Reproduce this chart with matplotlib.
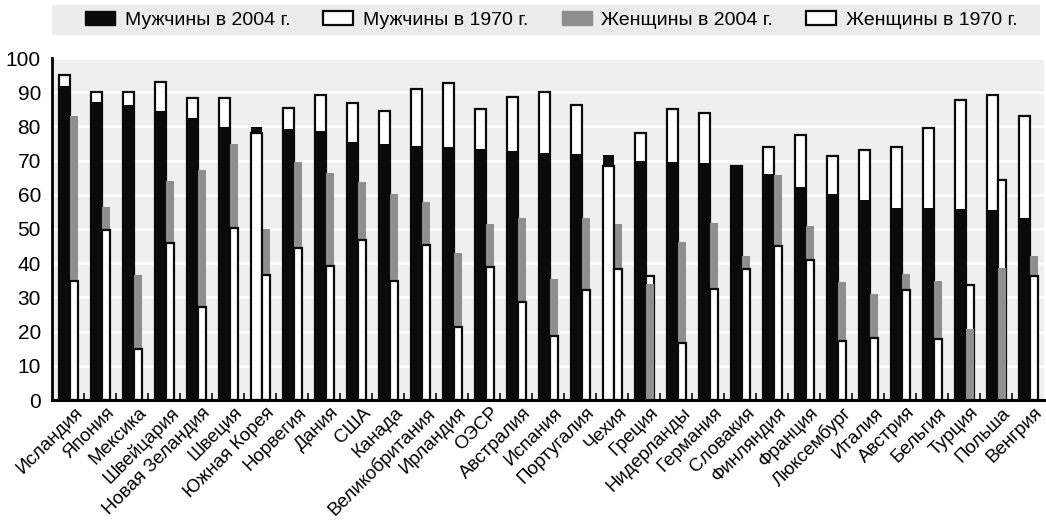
import numpy as np
import matplotlib.pyplot as plt
import matplotlib.transforms as mtransforms
from matplotlib.patches import Patch, Rectangle

plt.rcParams['font.family'] = ['Liberation Sans', 'DejaVu Sans']

countries = ['Исландия', 'Япония', 'Мексика', 'Швейцария', 'Новая Зеландия', 'Швеция',
             'Южная Корея', 'Норвегия', 'Дания', 'США', 'Канада', 'Великобритания',
             'Ирландия', 'ОЭСР', 'Австралия', 'Испания', 'Португалия', 'Чехия', 'Греция',
             'Нидерланды', 'Германия', 'Словакия', 'Финляндия', 'Франция', 'Люксембург',
             'Италия', 'Австрия', 'Бельгия', 'Турция', 'Польша', 'Венгрия']

men_2004 = [91.7, 87.1, 86.3, 84.5, 82.5, 79.9, 79.8, 79.3, 78.7, 75.4, 74.8, 74.2,
            74.0, 73.4, 72.8, 72.1, 72.0, 71.6, 70.0, 69.6, 69.3, 68.3, 66.1, 62.4,
            60.2, 58.5, 56.2, 56.0, 55.9, 55.5, 53.1]
men_1970 = [95.1, 90.0, 90.0, 93.1, 88.3, 88.3, 78.2, 85.4, 89.3, 86.8, 84.5, 90.8,
            92.7, 85.0, 88.7, 90.0, 86.2, 68.3, 78.0, 85.1, 83.9, 68.4, 73.9, 77.6,
            71.4, 73.0, 74.0, 79.6, 87.7, 89.1, 83.0]
women_2004 = [82.9, 56.3, 36.5, 64.0, 67.3, 75.0, 50.1, 69.6, 66.4, 63.6, 60.2, 58.0,
              43.1, 51.6, 53.3, 35.4, 53.3, 51.4, 33.9, 46.2, 51.9, 42.1, 65.9, 50.8,
              34.4, 30.9, 36.7, 34.7, 20.9, 38.5, 42.0]
women_1970 = [34.8, 49.8, 15.0, 46.0, 27.2, 50.3, 36.5, 44.4, 39.3, 46.8, 34.8, 45.4,
              21.3, 38.9, 28.8, 18.6, 32.3, 38.2, 36.3, 16.6, 32.4, 38.3, 45.1, 40.9,
              17.2, 18.0, 32.2, 17.7, 33.7, 64.4, 36.4]

legend_labels = ['Мужчины в 2004 г.', 'Мужчины в 1970 г.', 'Женщины в 2004 г.', 'Женщины в 1970 г.']

BLACK = '#0a0a0a'
GRAY = '#8e8e8e'

fig = plt.figure(figsize=(10.46, 5.22), dpi=100)
ax = fig.add_axes([52 / 1046, 1 - 400 / 522, 992 / 1046, 342 / 522])
ax.set_facecolor('#efefef')

x = np.arange(len(countries))
men_w = 0.34
wom_w = 0.26

m04 = ax.bar(x - 0.28, men_2004, width=men_w, align='edge', color=BLACK, linewidth=0)
m70 = ax.bar(x - 0.28, men_1970, width=men_w, align='edge', color='white',
             edgecolor=BLACK, linewidth=1.6)
w04 = ax.bar(x + 0.06, women_2004, width=wom_w, align='edge', color=GRAY, linewidth=0)
w70 = ax.bar(x + 0.06, women_1970, width=wom_w, align='edge', color='white',
             edgecolor=BLACK, linewidth=1.6)

# the smaller value of each pair sits in front
for a, b in [(m04, m70), (w04, w70)]:
    for pa, pb in zip(a.patches, b.patches):
        if pa.get_height() < pb.get_height():
            pa.set_zorder(4); pb.set_zorder(3)
        else:
            pa.set_zorder(3); pb.set_zorder(4)

ax.set_xlim(-0.5, len(countries) - 0.5)
ax.set_ylim(0, 100)
ax.set_yticks(range(0, 101, 10))
ax.yaxis.grid(True, color='white', linewidth=1.8)
ax.set_axisbelow(True)
ax.tick_params(axis='y', length=0, labelsize=15, pad=8)

ax.set_xticks(x)
ax.set_xticklabels(countries, rotation=45, ha='right', rotation_mode='anchor', fontsize=13.5)
ax.tick_params(axis='x', which='major', length=0, pad=3)
shift = mtransforms.ScaledTranslation(6 / 100, 0, fig.dpi_scale_trans)
for lbl in ax.get_xticklabels():
    lbl.set_transform(lbl.get_transform() + shift)
ax.set_xticks(x[:-1] + 0.5, minor=True)
ax.tick_params(axis='x', which='minor', direction='in', length=5, width=1.2, color=BLACK)

for s in ['top', 'right']:
    ax.spines[s].set_visible(False)
ax.spines['left'].set_linewidth(2)
ax.spines['bottom'].set_linewidth(2.2)
ax.spines['bottom'].set_zorder(6)

# legend band
fig.patches.append(Rectangle((52 / 1046, 1 - 35 / 522), 988 / 1046, 30 / 522,
                             transform=fig.transFigure, facecolor='#ececec',
                             edgecolor='none', zorder=0))
handles = [Patch(facecolor=BLACK, edgecolor=BLACK),
           Patch(facecolor='white', edgecolor=BLACK, linewidth=1.6),
           Patch(facecolor=GRAY, edgecolor=GRAY),
           Patch(facecolor='white', edgecolor=BLACK, linewidth=1.6)]
fig.legend(handles, legend_labels, loc='center', ncol=4, frameon=False,
           bbox_to_anchor=(0.527, 1 - 20 / 522), fontsize=14, handlelength=1.55,
           handleheight=0.75, columnspacing=1.7, handletextpad=0.5)

fig.savefig('out.png', dpi=100)
